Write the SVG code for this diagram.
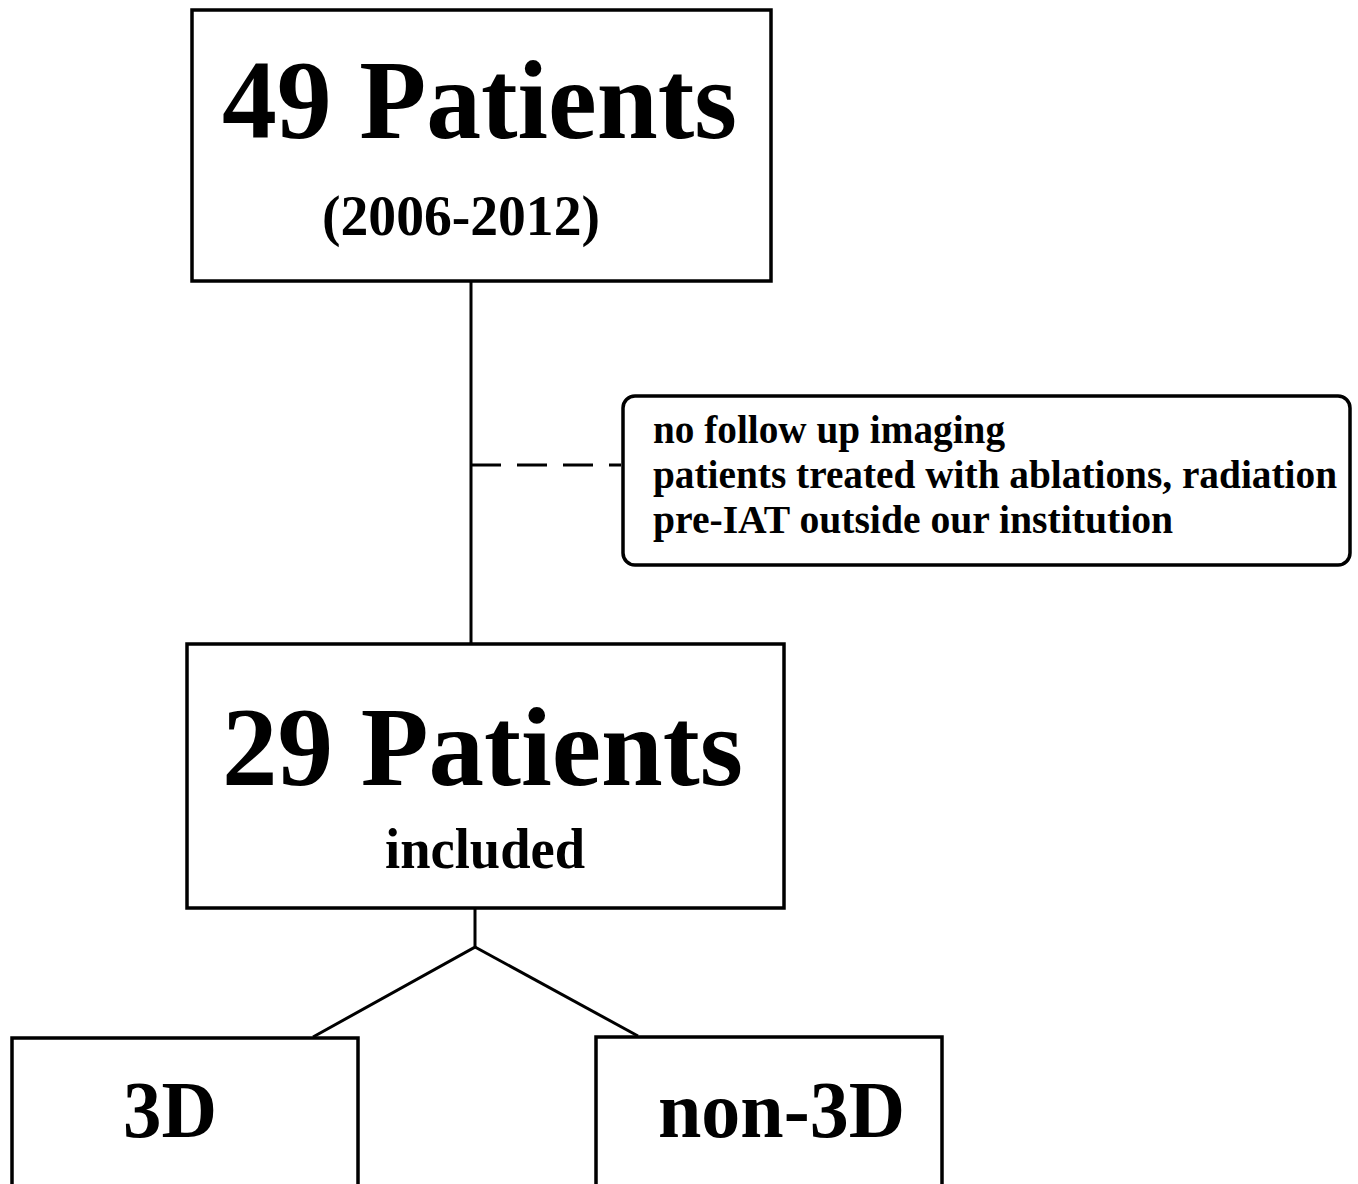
<svg xmlns="http://www.w3.org/2000/svg" width="1358" height="1184" viewBox="0 0 1358 1184">
<style>
.box{fill:#fff;stroke:#000;stroke-width:3.5}
.t{font-family:"Liberation Serif","Times New Roman",serif;font-weight:bold;fill:#000}
.big{font-size:113px}
.mid{font-size:56px}
.small{font-size:41px}
.leaf{font-size:80px}
.ln{stroke:#000;stroke-width:3;fill:none}
</style>
<rect width="1358" height="1184" fill="#fff"/>
<g id="connectors">
<line class="ln" x1="471" y1="281" x2="471" y2="644"/>
<line class="ln" x1="471" y1="465" x2="621" y2="465" stroke-dasharray="30,16"/>
<polyline class="ln" points="475,908 475,947 313,1037"/>
<line class="ln" x1="475" y1="947" x2="638" y2="1036"/>
</g>
<g id="n49">
<rect class="box" x="192" y="10" width="579" height="271"/>
<text class="t big" x="222" y="138" textLength="515" lengthAdjust="spacingAndGlyphs">49 Patients</text>
<text class="t mid" x="322" y="235" textLength="278" lengthAdjust="spacingAndGlyphs">(2006-2012)</text>
</g>
<g id="excluded">
<rect class="box" x="623" y="396" width="727" height="169" rx="12"/>
<text class="t small" x="653" y="443" textLength="352" lengthAdjust="spacingAndGlyphs">no follow up imaging</text>
<text class="t small" x="653" y="488" textLength="684" lengthAdjust="spacingAndGlyphs">patients treated with ablations, radiation</text>
<text class="t small" x="653" y="533" textLength="520" lengthAdjust="spacingAndGlyphs">pre-IAT outside our institution</text>
</g>
<g id="n29">
<rect class="box" x="187" y="644" width="597" height="264"/>
<text class="t big" x="222" y="785" textLength="521" lengthAdjust="spacingAndGlyphs">29 Patients</text>
<text class="t mid" x="385" y="868" textLength="200" lengthAdjust="spacingAndGlyphs">included</text>
</g>
<g id="n3d">
<rect class="box" x="12" y="1038" width="346" height="160"/>
<text class="t leaf" x="123" y="1137" textLength="94" lengthAdjust="spacingAndGlyphs">3D</text>
</g>
<g id="nnon3d">
<rect class="box" x="596" y="1037" width="346" height="160"/>
<text class="t leaf" x="658" y="1137" textLength="247" lengthAdjust="spacingAndGlyphs">non-3D</text>
</g>
</svg>
